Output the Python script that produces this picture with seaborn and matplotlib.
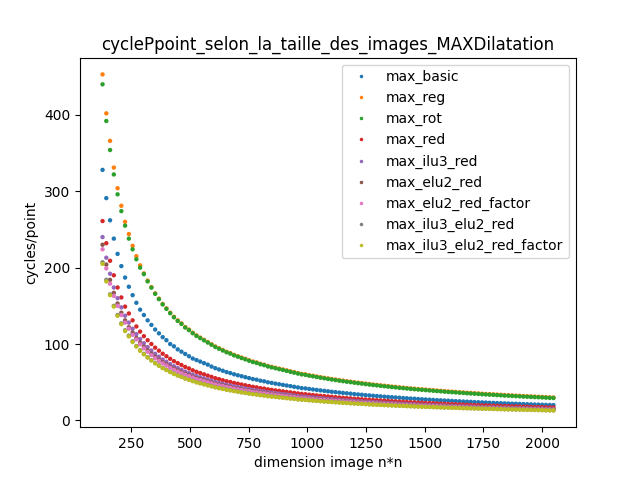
import matplotlib
matplotlib.use("Agg")
import matplotlib.pyplot as plt
import seaborn as sns
import pandas as pd
import numpy as np

x = list(range(128, 2049, 16))

max_basic = [328,291,262,238,218,202,187,175,164,154,145,138,131,125,119,114,109,105,100,97,93,90,87,84,81,79,77,75,73,70.5,68.4,66.7,65,63.3,62,60.4,59.1,57.9,56.6,55.4,54.1,53.3,52,51.2,49.9,49.1,48.2,47.4,46.5,45.7,44.9,44,43.2,42.3,41.9,41.2,40.5,39.9,39.3,38.7,38.1,37.5,37,36.5,36,35.5,35,34.5,34,33.6,33.1,32.7,32.3,31.9,31.5,31.1,30.7,30.4,30,29.7,29.3,29,28.6,28.4,28,27.7,27.4,27.1,26.8,26.5,26.3,26,25.8,25.5,25.2,25,24.7,24.5,24.3,24,23.8,23.6,23.4,23.1,22.9,22.7,22.5,22.3,22.1,21.9,21.8,21.6,21.4,21.2,21,20.8,20.7,20.5,20.3,20.2,20]
max_reg = [453,402,366,331,304,281,260,244,228.5,215,203,192.5,183,174.5,166.4,159.5,152.5,146.7,141,135.7,131,127,122.3,118.9,114.8,111.3,108.4,105.5,102.6,99.7,96.8,94.5,92.2,89.9,88.1,85.8,84.1,82.3,80.6,78.8,77.1,75.9,74.2,73,71.3,70.1,69,67.8,66.7,65.5,64.3,63.2,62,60.9,60.3,59.2,58.4,57.5,56.6,55.8,55,54.2,53.5,52.7,52,51.3,50.7,50,49.4,48.8,48.2,47.6,47,46.5,45.9,45.4,44.9,44.3,43.9,43.3,42.9,42.4,41.9,41.5,41.1,40.7,40.3,39.9,39.5,39.1,38.7,38.3,37.9,37.6,37.3,36.9,36.6,36.2,35.9,35.6,35.3,34.9,34.6,34.4,34.1,33.8,33.5,33.2,33,32.7,32.4,32.2,31.9,31.7,31.4,31.2,31,30.7,30.5,30.2,30]
max_rot = [440,392,354,322,296,274,255,238,224,211,200,191.5,182,173.8,165.7,158.8,151.8,146,140.3,135,130.3,126.3,121.6,118.2,114.1,110.6,107.7,104.8,101.9,99,96.1,93.8,91.5,89.2,87.4,85.1,83.4,81.6,79.9,78.1,76.4,75.2,73.5,72.3,70.6,69.4,68.3,67.1,66,64.8,63.6,62.5,61.3,60.2,59.6,58.5,57.7,56.8,55.9,55.1,54.3,53.5,52.8,52,51.3,50.6,50,49.3,48.7,48.1,47.5,46.9,46.3,45.8,45.2,44.7,44.2,43.6,43.2,42.6,42.2,41.7,41.2,40.8,40.4,40,39.6,39.2,38.8,38.4,38,37.6,37.2,36.9,36.6,36.2,35.9,35.5,35.2,34.9,34.6,34.2,33.9,33.7,33.4,33.1,32.8,32.5,32.3,32,31.7,31.5,31.2,31,30.7,30.5,30.3,30,29.8,29.5,29.3]
max_red = [261,232,209,190,174,161,149,140,131,123,116.3,110.3,105,100,95.3,91.3,87.3,84,80.6,77.6,75,72.6,70,68,65.6,63.6,62,60.3,58.6,57,55.3,54,52.6,51.3,50.3,49,48,47,46,45,44,43.3,42.3,41.7,40.7,40,39.3,38.7,38,37.3,36.7,36,35.3,34.7,34.3,33.7,33.2,32.7,32.2,31.8,31.3,30.9,30.4,30,29.6,29.2,28.8,28.4,28.1,27.7,27.4,27,26.7,26.4,26.1,25.8,25.5,25.2,24.9,24.6,24.3,24.1,23.8,23.6,23.3,23.1,22.8,22.6,22.4,22.1,21.9,21.7,21.5,21.3,21.1,20.9,20.7,20.5,20.3,20.1,20,19.8,19.6,19.4,19.3,19.1,18.9,18.8,18.6,18.5,18.3,18.2,18,17.9,17.7,17.6,17.5,17.4,17.2,17.1,17]
max_ilu3_red = [240,213,192,174,160,148,137,128,120,113,106.5,101,96,91.5,87.2,83.5,79.8,76.8,73.7,70.9,68.5,66.3,63.9,62,59.9,58,56.5,55,53.4,51.9,50.3,49.1,47.9,46.7,45.7,44.5,43.6,42.7,41.8,40.8,39.9,39.3,38.4,37.8,36.8,36.2,35.6,35,34.4,33.8,33.2,32.5,31.9,31.3,31,30.5,30,29.5,29.1,28.6,28.2,27.8,27.4,27,26.6,26.3,25.9,25.6,25.2,24.9,24.6,24.3,24,23.7,23.4,23.1,22.8,22.6,22.3,22,21.8,21.6,21.3,21.1,20.8,20.6,20.4,20.2,20,19.8,19.6,19.4,19.2,19,18.8,18.6,18.5,18.3,18.1,17.9,17.8,17.6,17.4,17.3,17.1,17,16.8,16.7,16.5,16.4,16.3,16.1,16,15.9,15.7,15.6,15.5,15.4,15.2,15.1,15]
max_elu2_red = [230,204,184,167,153,141,131,122,115,108,101.8,96.5,91.8,87.4,83.3,79.7,76.3,73.4,70.4,67.8,65.4,63.4,61,59.3,57.2,55.4,54,52.5,51,49.6,48.2,46.9,45.8,44.6,43.7,42.5,41.7,40.8,39.9,39,38.1,37.5,36.7,36.1,35.2,34.6,34,33.4,32.8,32.3,31.7,31.1,30.5,30,29.6,29.1,28.6,28.2,27.8,27.4,27,26.6,26.2,25.8,25.5,25.1,24.8,24.5,24.1,23.8,23.5,23.2,22.9,22.7,22.4,22.1,21.9,21.6,21.4,21.1,20.9,20.6,20.4,20.2,20,19.8,19.5,19.3,19.1,18.9,18.7,18.5,18.4,18.2,18,17.8,17.7,17.5,17.3,17.2,17,16.9,16.7,16.6,16.4,16.3,16.1,16,15.9,15.7,15.6,15.5,15.3,15.2,15.1,15,14.9,14.7,14.6,14.5,14.4]
max_elu2_red_factor = [224,199,179,163,150,138,128,120,112,106,99.6,94.4,89.8,85.5,81.5,78,74.6,71.8,68.9,66.3,64,62,59.7,58,56,54.2,52.8,51.4,49.9,48.5,47.1,45.9,44.8,43.6,42.8,41.6,40.8,39.9,39,38.2,37.3,36.7,35.9,35.3,34.4,33.9,33.3,32.7,32.1,31.6,31,30.4,29.8,29.3,29,28.5,28,27.6,27.2,26.8,26.4,26,25.6,25.3,24.9,24.6,24.3,23.9,23.6,23.3,23,22.7,22.4,22.2,21.9,21.6,21.4,21.1,20.9,20.6,20.4,20.1,19.9,19.7,19.5,19.3,19.1,18.9,18.7,18.5,18.3,18.1,17.9,17.8,17.6,17.4,17.2,17.1,16.9,16.8,16.6,16.4,16.3,16.2,16,15.9,15.7,15.6,15.5,15.3,15.2,15.1,15,14.8,14.7,14.6,14.5,14.4,14.2,14.1,14]
max_ilu3_elu2_red = [207,184,165,150,138,127,118,111,103.5,97.4,91.8,87.1,82.8,78.9,75.2,72,68.8,66.2,63.6,61.2,59.1,57.2,55.1,53.5,51.7,50.1,48.8,47.5,46.2,44.9,43.6,42.5,41.5,40.4,39.6,38.6,37.8,37,36.2,35.4,34.7,34.1,33.3,32.8,32,31.5,31,30.5,29.9,29.4,28.9,28.4,27.8,27.3,27,26.6,26.2,25.8,25.4,25,24.7,24.3,24,23.7,23.3,23,22.7,22.4,22.1,21.8,21.5,21.2,21,20.7,20.5,20.2,20,19.8,19.5,19.3,19.1,18.9,18.7,18.5,18.3,18.1,17.9,17.7,17.6,17.4,17.2,17,16.9,16.7,16.6,16.4,16.2,16.1,16,15.8,15.7,15.5,15.4,15.3,15.1,15,14.9,14.7,14.6,14.5,14.4,14.3,14.1,14,13.9,13.8,13.7,13.6,13.4,13.3,13.2]
max_ilu3_elu2_red_factor = [205,182,164,149,137,126,117,110,102.7,96.7,91.2,86.5,82.3,78.4,74.7,71.6,68.4,65.8,63.2,60.8,58.7,56.9,54.8,53.2,51.4,49.8,48.5,47.2,45.9,44.6,43.3,42.2,41.2,40.1,39.3,38.3,37.5,36.7,35.9,35.1,34.4,33.8,33,32.5,31.7,31.2,30.7,30.2,29.6,29.1,28.6,28.1,27.5,27,26.8,26.3,25.9,25.5,25.1,24.7,24.4,24,23.7,23.4,23,22.7,22.4,22.1,21.8,21.6,21.3,21,20.8,20.5,20.3,20,19.8,19.6,19.3,19.1,18.9,18.7,18.5,18.3,18.1,17.9,17.7,17.5,17.4,17.2,17,16.8,16.7,16.5,16.4,16.2,16,15.9,15.8,15.6,15.5,15.3,15.2,15.1,14.9,14.8,14.7,14.5,14.4,14.3,14.2,14.1,13.9,13.8,13.7,13.6,13.5,13.4,13.2,13.1,13.1]

names = ["max_basic", "max_reg", "max_rot", "max_red", "max_ilu3_red", "max_elu2_red",
         "max_elu2_red_factor", "max_ilu3_elu2_red", "max_ilu3_elu2_red_factor"]
series = [max_basic, max_reg, max_rot, max_red, max_ilu3_red, max_elu2_red,
          max_elu2_red_factor, max_ilu3_elu2_red, max_ilu3_elu2_red_factor]

frames = [pd.DataFrame({"n": x, "cpp": s, "serie": nm}) for nm, s in zip(names, series)]
df = pd.concat(frames, ignore_index=True)

fig, ax = plt.subplots(figsize=(6.4, 4.8), dpi=100)
palette = sns.color_palette("tab10", 9)
sns.scatterplot(data=df, x="n", y="cpp", hue="serie", hue_order=names, palette=palette,
                s=10, linewidth=0, ax=ax)
ax.set_title("cyclePpoint_selon_la_taille_des_images_MAXDilatation")
ax.set_xlabel("dimension image n*n")
ax.set_ylabel("cycles/point")
ax.set_xticks([250, 500, 750, 1000, 1250, 1500, 1750, 2000])
ax.set_yticks([0, 100, 200, 300, 400])
ax.legend(title=None, loc="upper right", markerscale=0.8)
fig.savefig("out.png", dpi=100)
